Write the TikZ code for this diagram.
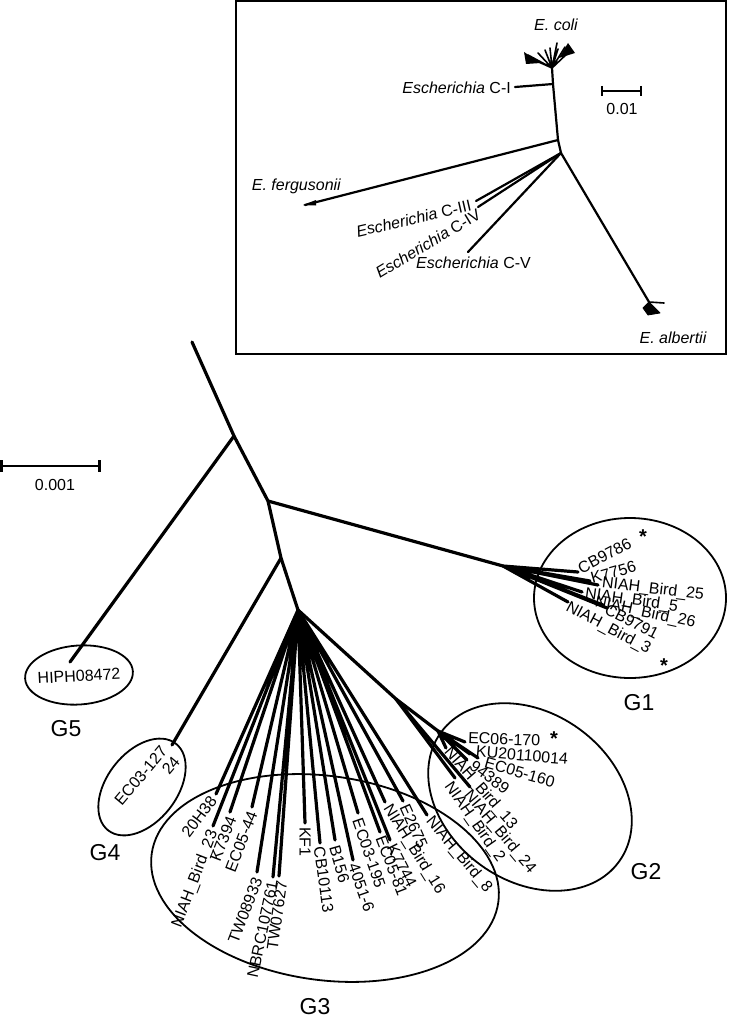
\documentclass[tikz,border=0pt]{standalone}
\usepackage{fontspec}
\setmainfont{Liberation Sans}
\begin{document}
\begin{tikzpicture}[x=1pt,y=-1pt,
  br/.style={line width=3.2pt,line cap=round},
  ib/.style={line width=2.2pt,line cap=round},
  fb/.style={line width=1.6pt,line cap=round},
  blob/.style={fill=black,draw=black,line width=0.8pt,line join=round},
  lab/.style={font=\fontsize{16}{16.5}\selectfont,inner sep=1pt},
  ilab/.style={font=\fontsize{16}{17}\selectfont,inner sep=1pt},
  glab/.style={font=\fontsize{23}{25}\selectfont,inner sep=0pt},
  grp/.style={line width=1.8pt},
  star/.style={font=\fontsize{20}{20}\selectfont\bfseries,inner sep=0pt},
  sbar/.style={line width=2.4pt}]
\fill[white] (0,0) rectangle (728,1019);
\useasboundingbox (0,0) rectangle (728,1019);

% ---------------- inset ----------------
\draw[line width=2pt] (236,1) rectangle (726,354);
\coordinate (er) at (552,68);
\coordinate (e1) at (553,84);
\coordinate (e2) at (558,140);
\coordinate (e3) at (561,153);
\coordinate (f1) at (528,55);
\coordinate (f2) at (532,59);
\coordinate (f3) at (538,53);
\coordinate (f4) at (545,50);
\coordinate (f5) at (550,48);
\coordinate (f6) at (557,43);
\coordinate (f7) at (558,49);
\coordinate (f8) at (565,47);
\coordinate (f9) at (570,51);
\draw[fb] (er) -- (f1) (er) -- (f2) (er) -- (f3) (er) -- (f4) (er) -- (f5)
  (er) -- (f6) (er) -- (f7) (er) -- (f8) (er) -- (f9);
\fill (541,63) -- (524,52) -- (526,64) -- cycle;
\fill (559,58) -- (568,43) -- (575,53) -- cycle;
\draw[ib] (er) -- (e1) -- (e2) -- (e3);
\coordinate (eci) at (515,87);
\draw[ib] (e1) -- (eci);
\coordinate (efe) at (305,205);
\draw[ib] (e2) -- (efe);
\fill (316,200) -- (303,205) -- (316,205.5) -- cycle;
\coordinate (ec3) at (476,201);
\coordinate (ec4) at (478,207);
\coordinate (ec5) at (468,252);
\coordinate (eal) at (649,302);
\coordinate (eal2) at (664,303);
\draw[ib] (e3) -- (ec3);
\draw[ib] (e3) -- (ec4);
\draw[ib] (e3) -- (ec5);
\draw[ib] (e3) -- (eal);
\draw[fb] (eal) -- (eal2);
\draw[blob] (649,302) -- (643,308) -- (648,315) -- (660,313) -- cycle;
\node[ilab] (ecoli) at (556,25) {\itshape E. coli};
\node[ilab,anchor=east] (lci) at (512,88) {\itshape Escherichia\/\upshape{} C-I};
\node[ilab,anchor=east] (lfe) at (342,186) {\itshape E. fergusonii};
\node[ilab,anchor=east,rotate=13] (lc3) at (472,205) {\itshape Escherichia\/\upshape{} C-III};
\node[ilab,anchor=east,rotate=31] (lc4) at (480,212) {\itshape Escherichia\/\upshape{} C-IV};
\node[ilab,anchor=west] (lc5) at (415,263) {\itshape Escherichia\/\upshape{} C-V};
\node[ilab] (lal) at (673,338) {\itshape E. albertii};
\coordinate (s2a) at (602,91);
\coordinate (s2b) at (641,91);
\draw[line width=2pt] (s2a) -- (s2b);
\draw[line width=2pt] (602,86) -- (602,96) (641,86) -- (641,96);
\node[ilab] (ls2) at (622,109) {0.01};

% ---------------- scale bar ----------------
\coordinate (s1a) at (1,466);
\coordinate (s1b) at (100,466);
\draw[sbar] (s1a) -- (s1b);
\draw[sbar] (1.5,460) -- (1.5,472) (99.5,460) -- (99.5,472);
\node[lab] (ls1) at (55,485) {0.001};

% ---------------- main tree ----------------
\coordinate (root) at (192,342);
\coordinate (A) at (234,436);
\coordinate (B) at (268,501);
\coordinate (C) at (281,558);
\coordinate (g5t) at (70,662);
\coordinate (g4t) at (172,745);
\coordinate (g1h) at (503,566);
\coordinate (g3h) at (298,610);
\coordinate (g2a) at (396,699);
\coordinate (g2h) at (438,731);
\draw[br] (root) -- (A) -- (B) -- (C) -- (g3h);
\draw[br] (A) -- (g5t);
\draw[br] (B) -- (g1h);
\draw[br] (C) -- (g4t);
\draw[br] (g3h) -- (g2a) -- (g2h);

% G1
\coordinate (t1a) at (578,572);
\coordinate (t1b) at (590,581);
\coordinate (t1c) at (598,585);
\coordinate (t1d) at (582,592);
\coordinate (t1e) at (607,608);
\coordinate (t1f) at (603,605);
\coordinate (t1g) at (568,602);
\draw[br] (g1h) -- (t1a) (g1h) -- (t1b) (g1h) -- (t1c) (g1h) -- (t1d)
  (g1h) -- (t1e) (g1h) -- (t1f) (g1h) -- (t1g);
\node[lab,anchor=west,rotate=28] (l1a) at (578,570) {CB9786};
\node[lab,anchor=west,rotate=16] (l1b) at (590,579) {K7756};
\node[lab,anchor=west,rotate=-7] (l1c) at (601,583) {NIAH\_Bird\_25};
\node[lab,anchor=west,rotate=-8] (l1d) at (584,594) {NIAH\_Bird\_5};
\node[lab,anchor=west,rotate=-12] (l1e) at (594,602) {NIAH\_Bird\_26};
\node[lab,anchor=west,rotate=-27] (l1f) at (605,608) {CB9791};
\node[lab,anchor=west,rotate=-28] (l1g) at (566,606) {NIAH\_Bird\_3};
\node[star] (st1) at (643,537) {*};
\node[star] (st2) at (664,666) {*};
\draw[grp] (630,598) ellipse [x radius=96pt,y radius=80pt];
\node[glab] (G1) at (639,703) {G1};

% G2
\coordinate (t2a) at (465,742);
\coordinate (t2b) at (470,754);
\coordinate (t2c) at (478,758);
\coordinate (t2d) at (467,760);
\coordinate (t2e) at (446,748);
\coordinate (t2f) at (455,778);
\coordinate (t2g) at (470,787);
\draw[br] (g2h) -- (t2a) (g2h) -- (t2b) (g2h) -- (t2c) (g2h) -- (t2d) (g2h) -- (t2e);
\draw[br] (g2a) -- (t2f);
\draw[br] (g2a) -- (t2g);
\node[lab,anchor=west,rotate=-2] (l2a) at (467,738) {EC06-170};
\node[star] (st3) at (554,739) {*};
\node[lab,anchor=west,rotate=-5] (l2b) at (475,751) {KU20110014};
\node[lab,anchor=west,rotate=-16] (l2c) at (484,762) {EC05-160};
\node[lab,anchor=west,rotate=-37] (l2d) at (471,763) {94389};
\node[lab,anchor=west,rotate=-49] (l2e) at (446,749) {NIAH\_Bird\_13};
\node[lab,anchor=west,rotate=-55] (l2f) at (447,783) {NIAH\_Bird\_2};
\node[lab,anchor=west,rotate=-50] (l2g) at (466,792) {NIAH\_Bird\_24};
\draw[grp] (530,797) ellipse [x radius=110pt,y radius=84pt,rotate=-36];
\node[glab] (G2) at (646,872) {G2};

% G3
\coordinate (t3a) at (216,794);
\coordinate (t3b) at (213,826);
\coordinate (t3c) at (230,812);
\coordinate (t3d) at (252,807);
\coordinate (t3e) at (257,872);
\coordinate (t3f) at (273,877);
\coordinate (t3g) at (279,876);
\coordinate (t3h) at (305,823);
\coordinate (t3i) at (320,843);
\coordinate (t3j) at (335,840);
\coordinate (t3k) at (358,813);
\coordinate (t3l) at (353,860);
\coordinate (t3m) at (380,832);
\coordinate (t3n) at (390,840);
\coordinate (t3o) at (385,802);
\coordinate (t3p) at (403,801);
\coordinate (t3q) at (427,815);
\draw[br] (g3h) -- (t3a) (g3h) -- (t3b) (g3h) -- (t3c) (g3h) -- (t3d) (g3h) -- (t3e)
  (g3h) -- (t3f) (g3h) -- (t3g) (g3h) -- (t3h) (g3h) -- (t3i) (g3h) -- (t3j)
  (g3h) -- (t3k) (g3h) -- (t3l) (g3h) -- (t3m) (g3h) -- (t3n) (g3h) -- (t3o)
  (g3h) -- (t3p) (g3h) -- (t3q);
\node[lab,anchor=east,rotate=53] (l3a) at (214,797) {20H38};
\node[lab,anchor=east,rotate=69] (l3b) at (214,830) {NIAH\_Bird\_23};
\node[lab,anchor=east,rotate=69] (l3c) at (232,816) {K7394};
\node[lab,anchor=east,rotate=69] (l3d) at (253,811) {EC05-44};
\node[lab,anchor=east,rotate=69] (l3e) at (258,877) {TW08933};
\node[lab,anchor=east,rotate=78] (l3f) at (273,880) {NBRC107761};
\node[lab,anchor=east,rotate=82] (l3g) at (282,880) {TW07627};
\node[lab,anchor=west,rotate=-90] (l3h) at (305,826) {KF1};
\node[lab,anchor=west,rotate=-82] (l3i) at (319,846) {CB10113};
\node[lab,anchor=west,rotate=-74] (l3j) at (334,845) {B156};
\node[lab,anchor=west,rotate=-71] (l3k) at (357,818) {EC03-195};
\node[lab,anchor=west,rotate=-71] (l3l) at (353,863) {4051-6};
\node[lab,anchor=west,rotate=-69] (l3m) at (380,835) {EC05-81};
\node[lab,anchor=west,rotate=-63] (l3n) at (391,844) {K7744};
\node[lab,anchor=west,rotate=-58] (l3o) at (386,805) {NIAH\_Bird\_16};
\node[lab,anchor=west,rotate=-66] (l3p) at (404,804) {E2675};
\node[lab,anchor=west,rotate=-50] (l3q) at (428,818) {NIAH\_Bird\_8};
\draw[grp] (325,878) ellipse [x radius=175pt,y radius=102pt,rotate=-8];
\node[glab] (G3) at (315,1007) {G3};

% G4
\node[lab,rotate=50,align=right] (l4) at (147,781) {EC03-127\\24};
\draw[grp] (142,787) ellipse [x radius=55pt,y radius=35pt,rotate=52];
\node[glab] (G4) at (105,853) {G4};

% G5
\node[lab,rotate=3] (l5) at (79,676) {HIPH08472};
\draw[grp] (79,675) ellipse [x radius=54pt,y radius=29.5pt,rotate=4];
\node[glab] (G5) at (66,729) {G5};
\end{tikzpicture}
\end{document}
